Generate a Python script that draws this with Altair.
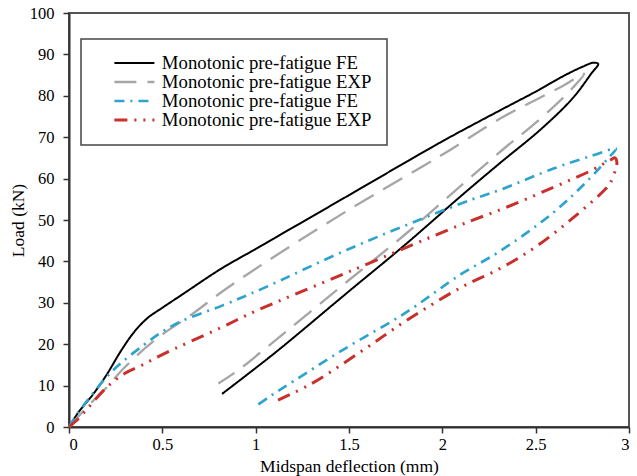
import altair as alt
import pandas as pd

# ---- data ----
names = ["Monotonic pre-fatigue FE", "Monotonic pre-fatigue EXP",
         "Monotonic pre-fatigue FE ", "Monotonic pre-fatigue EXP "]
colors = ["#000000", "#a6a6a6", "#2ea3cc", "#c9302c"]
dashes = [[1, 0], [22, 11], [10, 6, 2, 6], [13, 7, 2, 7, 2, 7]]
widths = [2, 3, 2.5, 2.5]

fe1_x = [0, 0.05, 0.134, 0.2, 0.28, 0.35, 0.42, 0.5, 0.6, 0.814, 1.0, 1.5, 2.0, 2.31, 2.5, 2.65, 2.75, 2.81,
         2.835, 2.8, 2.7, 2.53, 2.31, 2.1, 1.8, 1.5, 1.125, 0.95, 0.82]
fe1_y = [0, 3.5, 8.2, 12.5, 18.5, 23, 26.3, 28.8, 31.8, 38.2, 43, 56, 69, 76.5, 81, 84.8, 87, 88,
         87.7, 85.5, 79.5, 72, 63.8, 55.8, 44, 32.8, 18.7, 12.5, 8]

exp1_x = [0, 0.1, 0.19, 0.3, 0.46, 0.67, 0.814, 1.06, 1.5, 1.99, 2.31, 2.5, 2.65, 2.76,
          2.7, 2.6, 2.45, 2.35, 2.1, 1.8, 1.5, 1.045, 0.9, 0.8]
exp1_y = [0, 5, 9, 14.5, 21, 27.6, 32.5, 40, 52.5, 65.5, 74.5, 79, 82.5, 85.3,
          82, 77.5, 71.6, 68, 58.3, 46.5, 35.5, 18.7, 13.5, 10.5]

fe2_x = [0, 0.05, 0.1, 0.2, 0.28, 0.4, 0.5, 0.6, 0.83, 1.03, 1.5, 2.1, 2.31, 2.6, 2.8, 2.93,
         2.89, 2.8, 2.6, 2.31, 2.1, 1.8, 1.47, 1.2, 1.08, 1.0]
fe2_y = [0, 3.5, 6.5, 12, 15.5, 19.8, 23, 25.5, 29.5, 33.3, 43, 54, 57.3, 62.5, 65.5, 67.2,
         65, 60.5, 52, 42.5, 36.9, 27.5, 18.7, 11, 7.5, 5]

exp2_x = [0, 0.05, 0.1, 0.2, 0.3, 0.385, 0.5, 0.814, 1.0, 1.5, 2.08, 2.35, 2.6, 2.8, 2.9, 2.925,
          2.935, 2.93, 2.9, 2.87, 2.7, 2.5, 2.31, 2.1, 1.8, 1.58, 1.3, 1.12]
exp2_y = [0, 2, 4.5, 9.5, 13, 14.8, 17.5, 24, 28, 37.5, 48.5, 53.2, 58, 62, 64.5, 65,
          64, 62.5, 59, 57.3, 50.5, 43.5, 38.3, 33.7, 25.5, 18.7, 10.5, 6.5]

x_ticks = [0, 0.5, 1, 1.5, 2, 2.5, 3]
y_ticks = list(range(0, 101, 10))

rows = []
for name, xs, ys in zip(names, [fe1_x, exp1_x, fe2_x, exp2_x], [fe1_y, exp1_y, fe2_y, exp2_y]):
    for i, (x, y) in enumerate(zip(xs, ys)):
        rows.append({"series": name, "x": x, "y": y, "order": i})
df = pd.DataFrame(rows)

FONT = "Liberation Serif"

legend_kw = dict(title=None, orient="none", legendX=12, legendY=26,
                 symbolType="M-1,0L7,0", symbolSize=100,
                 symbolStrokeWidth=2.5, symbolOffset=14,
                 labelOffset=33, padding=15, rowPadding=0, clipHeight=18,
                 labelFont=FONT, labelFontSize=18.8, labelLimit=400,
                 labelColor="#000000",
                 strokeColor="#444444", fillColor="white")

chart = alt.Chart(df).mark_line(interpolate="catmull-rom").encode(
    x=alt.X("x:Q", title="Midspan deflection (mm)",
            scale=alt.Scale(domain=[0, 3], nice=False),
            axis=alt.Axis(values=x_ticks, format="~g", grid=False)),
    y=alt.Y("y:Q", title="Load (kN)",
            scale=alt.Scale(domain=[0, 100], nice=False),
            axis=alt.Axis(values=y_ticks, grid=False)),
    color=alt.Color("series:N", scale=alt.Scale(domain=names, range=colors),
                    legend=alt.Legend(**legend_kw)),
    strokeDash=alt.StrokeDash("series:N", scale=alt.Scale(domain=names, range=dashes),
                              legend=alt.Legend(**legend_kw)),
    strokeWidth=alt.StrokeWidth("series:N", scale=alt.Scale(domain=names, range=widths), legend=None),
    order="order:Q",
).properties(
    width=560, height=414,
    autosize=alt.AutoSizeParams(type="none"),
    padding={"left": 69, "top": 13, "right": 8, "bottom": 49},
).configure_view(
    stroke="#555555", strokeWidth=2
).configure_axis(
    domainColor="#333333", domainWidth=2, tickColor="#333333", tickWidth=1.5, tickSize=6,
    labelFont=FONT, labelFontSize=16.5, labelColor="#000000",
    titleFont=FONT, titleFontSize=17.5, titleFontWeight="normal", titleColor="#000000",
).configure_axisY(
    labelPadding=9, titlePadding=2
).configure_axisX(
    labelPadding=3, titlePadding=5
).configure_legend(
    strokeWidth=1.5
)

chart.save("out.html", embed_options={"renderer": "svg", "actions": False})
